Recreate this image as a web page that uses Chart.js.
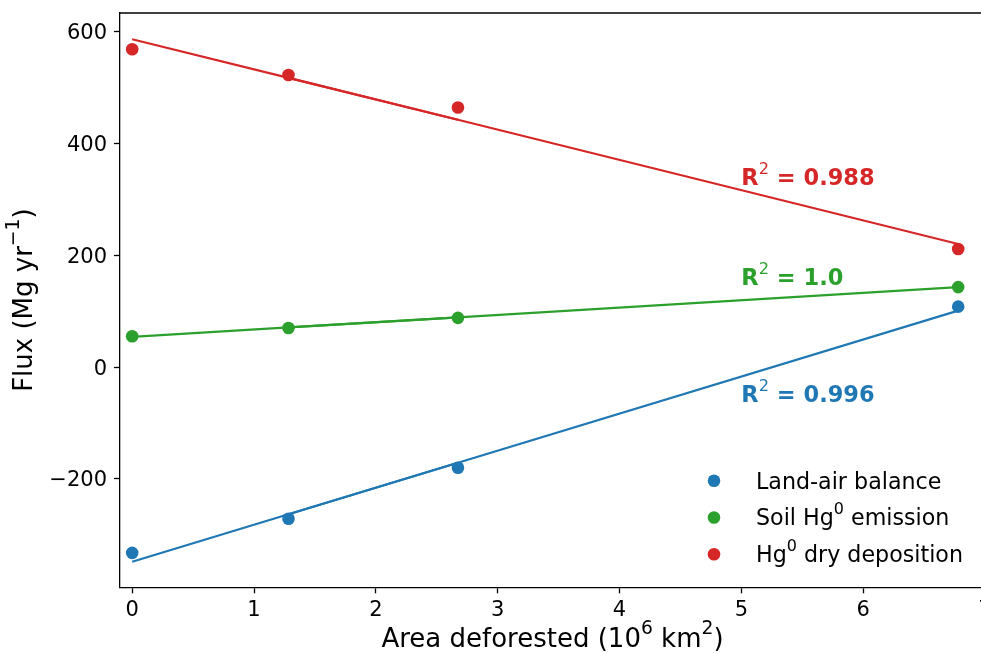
<!DOCTYPE html>
<html>
<head>
<meta charset="utf-8">
<script src="https://cdn.jsdelivr.net/npm/chart.js@4.4.1/dist/chart.umd.min.js"></script>
<style>
  html, body { margin: 0; padding: 0; background: #fff; overflow: hidden; }
</style>
</head>
<body>
<canvas id="fluxChart" width="995" height="653"></canvas>
<script>
// Flux vs deforested area, with linear fits

const areaX = [0, 1.283, 2.674, 6.78];
const landAir = [-332, -271, -180, 108];
const soilEmission = [55, 70, 88, 143];
const dryDeposition = [568, 522, 464, 211];

// fitted lines read at the same x positions
const landAirFit = [-348, -263, -171, 101];
const soilFit = [54, 71, 89, 143];
const dryFit = [586, 517, 442, 220];

// text pieces: [text, isSuperscript]
const seriesNames = [
  [['Land-air balance', 0]],
  [['Soil Hg', 0], ['0', 1], [' emission', 0]],
  [['Hg', 0], ['0', 1], [' dry deposition', 0]],
];
const seriesColors = ['#1f77b4', '#2ca02c', '#d62728'];

const r2Labels = [
  [['R', 0], ['2', 1], [' = 0.996', 0]],
  [['R', 0], ['2', 1], [' = 1.0', 0]],
  [['R', 0], ['2', 1], [' = 0.988', 0]],
];
const r2X = [5.0, 5.0, 5.0];
const r2Y = [-63, 147, 325];

const xTitle = [['Area deforested (10', 0], ['6', 1], [' km', 0], ['2', 1], [')', 0]];
const yTitle = [['Flux (Mg yr', 0], ['\u22121', 1], [')', 0]];

const xTicks = [0, 1, 2, 3, 4, 5, 6, 7];
const yTicks = [-200, 0, 200, 400, 600];

const FONT = 'DejaVu Sans';

const pts = ys => ys.map((y, i) => ({ x: areaX[i], y }));

const scatterSets = [landAir, soilEmission, dryDeposition].map((ys, i) => ({
  label: seriesNames[i].map(s => s[0]).join(''),
  data: pts(ys),
  showLine: false,
  pointRadius: 6.3,
  pointHoverRadius: 6.3,
  pointBackgroundColor: seriesColors[i],
  pointBorderWidth: 0,
}));

const fitSets = [];
[landAirFit, soilFit, dryFit].forEach((ys, i) => {
  fitSets.push({
    label: 'fit ' + i,
    data: pts(ys),
    showLine: true,
    pointRadius: 0,
    borderColor: seriesColors[i],
    borderWidth: 2.2,
  });
  // middle segment is drawn twice in the original
  fitSets.push({
    label: 'fit mid ' + i,
    data: pts(ys).slice(1, 3),
    showLine: true,
    pointRadius: 0,
    borderColor: seriesColors[i],
    borderWidth: 2.2,
  });
});

// draw text with raised small pieces, baseline at y
function drawRich(ctx, segs, x, y, size, weight, align) {
  const supSize = size * 0.72;
  const fontFor = sup => sup ? `${supSize}px "${FONT}"` : `${weight} ${size}px "${FONT}"`;
  const widths = segs.map(([t, sup]) => { ctx.font = fontFor(sup); return ctx.measureText(t).width; });
  const total = widths.reduce((a, b) => a + b, 0);
  let cx = align === 'center' ? x - total / 2 : x;
  ctx.textAlign = 'left';
  ctx.textBaseline = 'alphabetic';
  segs.forEach(([t, sup], i) => {
    ctx.font = fontFor(sup);
    ctx.fillText(t, cx, sup ? y - size * 0.5 : y);
    cx += widths[i];
  });
}

const extras = {
  id: 'extras',
  afterDatasetsDraw(chart) {
    const { ctx, chartArea, scales } = chart;
    ctx.save();
    // top spine
    ctx.strokeStyle = '#000';
    ctx.lineWidth = 1.3;
    ctx.beginPath();
    ctx.moveTo(chartArea.left, chartArea.top);
    ctx.lineTo(chartArea.right, chartArea.top);
    ctx.stroke();

    // R² annotations
    r2Labels.forEach((segs, i) => {
      ctx.fillStyle = seriesColors[i];
      drawRich(ctx, segs, scales.x.getPixelForValue(r2X[i]), scales.y.getPixelForValue(r2Y[i]), 22.5, 'bold', 'left');
    });

    // legend, bottom right
    seriesNames.forEach((segs, i) => {
      const base = 488.5 + i * 36.8;
      ctx.fillStyle = seriesColors[i];
      ctx.beginPath();
      ctx.arc(714, base - 7.8, 6.3, 0, Math.PI * 2);
      ctx.fill();
      ctx.fillStyle = '#000';
      drawRich(ctx, segs, 756, base, 22.2, 'normal', 'left');
    });

    // axis titles
    ctx.fillStyle = '#000';
    drawRich(ctx, xTitle, (chartArea.left + chartArea.right) / 2, 647, 26, 'normal', 'center');
    ctx.translate(32.3, (chartArea.top + chartArea.bottom) / 2);
    ctx.rotate(-Math.PI / 2);
    drawRich(ctx, yTitle, 0, 0, 26, 'normal', 'center');
    ctx.restore();
  }
};

new Chart(document.getElementById('fluxChart'), {
  type: 'scatter',
  data: { datasets: [...scatterSets, ...fitSets] },
  options: {
    responsive: false,
    animation: false,
    layout: { padding: { top: 13, right: 10, left: 0, bottom: 0 } },
    plugins: {
      legend: { display: false },
      tooltip: { enabled: false },
    },
    scales: {
      x: {
        type: 'linear',
        min: -0.1,
        max: 7,
        afterBuildTicks: s => { s.ticks = xTicks.map(v => ({ value: v })); },
        afterFit: s => { s.height = 65.7; s.paddingLeft = 0; s.paddingRight = 0; },
        grid: { drawOnChartArea: false, tickLength: 6, tickWidth: 1.3, color: '#000' },
        border: { color: '#000', width: 1.3 },
        ticks: { color: '#000', font: { family: FONT, size: 21 }, padding: 5, maxRotation: 0, autoSkip: false },
      },
      y: {
        type: 'linear',
        min: -393.6,
        max: 632.9,
        afterBuildTicks: s => { s.ticks = yTicks.map(v => ({ value: v })); },
        afterFit: s => { s.width = 120; s.paddingTop = 0; s.paddingBottom = 0; },
        grid: { drawOnChartArea: false, tickLength: 6, tickWidth: 1.3, color: '#000' },
        border: { color: '#000', width: 1.3 },
        ticks: {
          color: '#000', font: { family: FONT, size: 21 }, padding: 7, labelOffset: 2,
          callback: v => (v < 0 ? '\u2212' + Math.abs(v) : String(v)),
        },
      },
    },
  },
  plugins: [extras],
});
</script>
</body>
</html>
